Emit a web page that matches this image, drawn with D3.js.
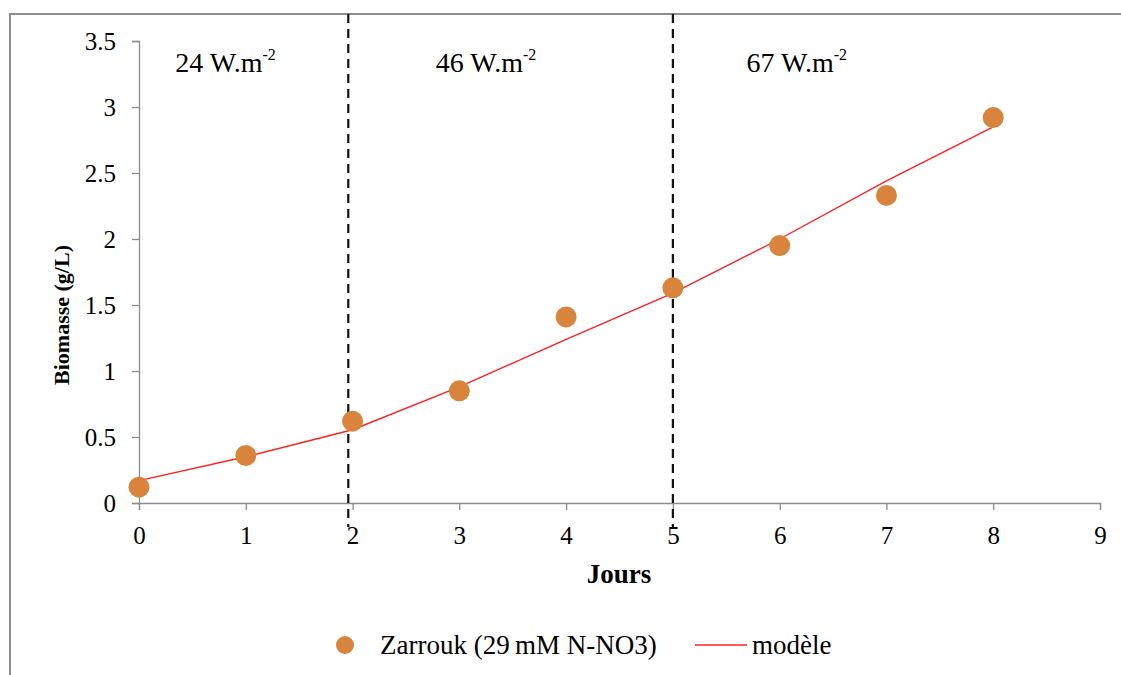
<!DOCTYPE html>
<html><head><meta charset="utf-8">
<script src="https://cdn.jsdelivr.net/npm/d3@7"></script>
<style>body{margin:0;background:#fff}svg{display:block}</style>
</head><body><svg id="c" width="1121" height="675" font-family="Liberation Serif"></svg>
<script>
const days = [0,1,2,3,4,5,6,7,8];
const biomass = [0.12,0.36,0.62,0.85,1.41,1.63,1.95,2.33,2.92];
const modelDays = [0,1,2,3,4,5,6,7,8];
const modelValues = [0.17,0.35,0.555,0.88,1.24,1.59,2.0,2.44,2.85];
const xTicks = [0,1,2,3,4,5,6,7,8,9];
const yTicks = [0,0.5,1,1.5,2,2.5,3,3.5];
const phaseBounds = [1.96,5.0];
const phaseLabels = [{x:0.34,t:"24 W.m",s:"-2"},{x:2.78,t:"46 W.m",s:"-2"},{x:5.69,t:"67 W.m",s:"-2"}];
const seriesNames = ["Zarrouk (29\u2009mM N-NO3)","modèle"];

const svg = d3.select("#c");
const FF = "Liberation Serif";
const x = d3.scaleLinear().domain([0,9]).range([139,1100]);
const y = d3.scaleLinear().domain([0,3.5]).range([503,41]);
const grey = "#8c8c8c";

// outer frame
svg.append("rect").attr("x",10).attr("y",14).attr("width",1130).attr("height",700)
  .attr("fill","none").attr("stroke",grey).attr("stroke-width",2);

// axes
const xAxis = svg.append("g").attr("transform","translate(0,503)")
  .call(d3.axisBottom(x).tickValues(xTicks).tickSize(7).tickPadding(16).tickFormat(d3.format("d")));
const yAxis = svg.append("g").attr("transform","translate(139,0)")
  .call(d3.axisLeft(y).tickValues(yTicks).tickSize(7).tickPadding(16).tickFormat(d=>String(d)));
[xAxis,yAxis].forEach(g=>{
  g.attr("font-family",FF).attr("font-size",25);
  g.select(".domain").attr("stroke",grey).attr("stroke-width",1.3);
  g.selectAll(".tick line").attr("stroke",grey).attr("stroke-width",1.3);
  g.selectAll(".tick text").attr("fill","#000");
});
yAxis.selectAll(".tick text").attr("dy","0.35em");

// axis titles
svg.append("text").attr("x",619).attr("y",583).attr("text-anchor","middle")
  .attr("font-family",FF).attr("font-size",27).attr("font-weight","bold").text("Jours");
svg.append("text").attr("transform","translate(69,315) rotate(-90)").attr("text-anchor","middle")
  .attr("font-family",FF).attr("font-size",22).attr("font-weight","bold").text("Biomasse (g/L)");

// phase dashed lines
svg.selectAll(".phase").data(phaseBounds).enter().append("line")
  .attr("x1",d=>x(d)).attr("x2",d=>x(d)).attr("y1",14).attr("y2",527)
  .attr("stroke","#111").attr("stroke-width",2.2).attr("stroke-dasharray","9,6");

// phase labels
const pl = svg.selectAll(".pl").data(phaseLabels).enter().append("text")
  .attr("x",d=>x(d.x)).attr("y",72).attr("font-family",FF).attr("font-size",28);
pl.append("tspan").text(d=>d.t);
pl.append("tspan").attr("dy",-12).attr("font-size",16).text(d=>d.s);

// model line
svg.append("path").datum(modelDays.map((d,i)=>[d,modelValues[i]]))
  .attr("d",d3.line().x(d=>x(d[0])).y(d=>y(d[1])))
  .attr("fill","none").attr("stroke","#ff2020").attr("stroke-width",1.4);

// points
const orange = "#d9843d";
svg.selectAll(".pt").data(days).enter().append("circle")
  .attr("cx",d=>x(d)).attr("cy",(d,i)=>y(biomass[i])).attr("r",10.5).attr("fill",orange);

// legend
svg.append("circle").attr("cx",345).attr("cy",645).attr("r",9).attr("fill",orange);
svg.append("text").attr("x",380).attr("y",654).attr("font-family",FF).attr("font-size",27).text(seriesNames[0]);
svg.append("line").attr("x1",695).attr("x2",747).attr("y1",645).attr("y2",645).attr("stroke","#ff2020").attr("stroke-width",1.4);
svg.append("text").attr("x",752).attr("y",654).attr("font-family",FF).attr("font-size",27).text(seriesNames[1]);
</script></body></html>
